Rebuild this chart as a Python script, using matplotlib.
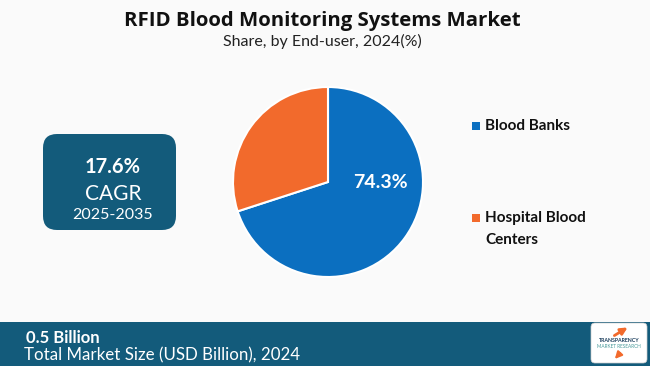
import matplotlib.pyplot as plt
from matplotlib.patches import FancyBboxPatch, Rectangle

# data
segments = ['Blood Banks', 'Hospital Blood\nCenters']
shares = [70.0, 30.0]          # as drawn in the picture
share_label = '74.3%'          # label printed on the blue slice
colors = ['#0b6fc0', '#f26a2c']
cagr = '17.6%'
cagr_period = '2025-2035'
market_size = '0.5 Billion'
market_caption = 'Total Market Size (USD Billion), 2024'

W, H = 650, 366
fig = plt.figure(figsize=(W / 100, H / 100), dpi=100)
fig.patch.set_facecolor('#fafafa')
plt.rcParams['font.family'] = ['Lato', 'DejaVu Sans']

# overlay axes in pixel coords (y down)
bg = fig.add_axes([0, 0, 1, 1])
bg.set_xlim(0, W)
bg.set_ylim(H, 0)
bg.axis('off')

bg.text(322, 21, 'RFID Blood Monitoring Systems Market', ha='center', va='center',
        fontsize=14.7, fontweight='bold', family='Open Sans', color='#111111')
bg.text(322, 41, 'Share, by End-user, 2024(%)', ha='center', va='center',
        fontsize=11.5, color='#222222')

# CAGR box
teal = '#135b7b'
bg.add_patch(FancyBboxPatch((50, 141), 119, 82, boxstyle='round,pad=7,rounding_size=14',
                            fc=teal, ec='none'))
bg.text(113, 167, cagr, ha='center', va='center', fontsize=14.5, fontweight='bold',
        color='white')
bg.text(113, 194, 'CAGR', ha='center', va='center', fontsize=15, color='white')
bg.text(113, 215, cagr_period, ha='center', va='center', fontsize=11.5, color='white')

# bottom band
bg.add_patch(Rectangle((0, 322), W, 44, fc=teal, ec='none'))
bg.text(26, 338, market_size, ha='left', va='center', fontsize=12, fontweight='bold',
        color='white')
bg.text(24, 355, market_caption, ha='left', va='center', fontsize=12.2, color='white')

# logo placeholder
bg.add_patch(FancyBboxPatch((592, 324), 54, 38, boxstyle='round,pad=1,rounding_size=4',
                            fc='white', ec='#cccccc', lw=0.5))
bg.text(619, 340, 'TRANSPARENCY', ha='center', va='center', fontsize=3.8,
        fontweight='bold', color='#1a3d5c')
bg.text(619, 346, 'MARKET RESEARCH', ha='center', va='center', fontsize=3.4,
        color='#4a9a9a')
bg.annotate('', xy=(630, 326), xytext=(612, 337),
            arrowprops=dict(arrowstyle='-|>', color='#f26a2c', lw=2))
bg.annotate('', xy=(613, 361), xytext=(622, 351),
            arrowprops=dict(arrowstyle='-|>', color='#f26a2c', lw=1.5))

# pie
cx, cy, r = 328, 182, 95
ax = fig.add_axes([(cx - r) / W, 1 - (cy + r) / H, 2 * r / W, 2 * r / H])
wedges, _ = ax.pie(shares, colors=colors, startangle=90, counterclock=False,
                   wedgeprops=dict(edgecolor='white', linewidth=1.5))
ax.set_xlim(-1, 1)
ax.set_ylim(-1, 1)
ax.set_aspect('equal')
ax.text(0.55, -0.01, share_label, ha='center', va='center', fontsize=14,
        fontweight='bold', color='white')

# legend
legend_y = [[126], [218, 240]]
for col, name, ys in zip(colors, segments, legend_y):
    bg.add_patch(Rectangle((472, ys[0] - 4), 8, 8, fc=col, ec='none'))
    for line, y in zip(name.split('\n'), ys):
        bg.text(485, y, line, ha='left', va='center', fontsize=11, fontweight='bold',
                color='#111111')

fig.savefig('out.png', dpi=100, facecolor=fig.get_facecolor())
